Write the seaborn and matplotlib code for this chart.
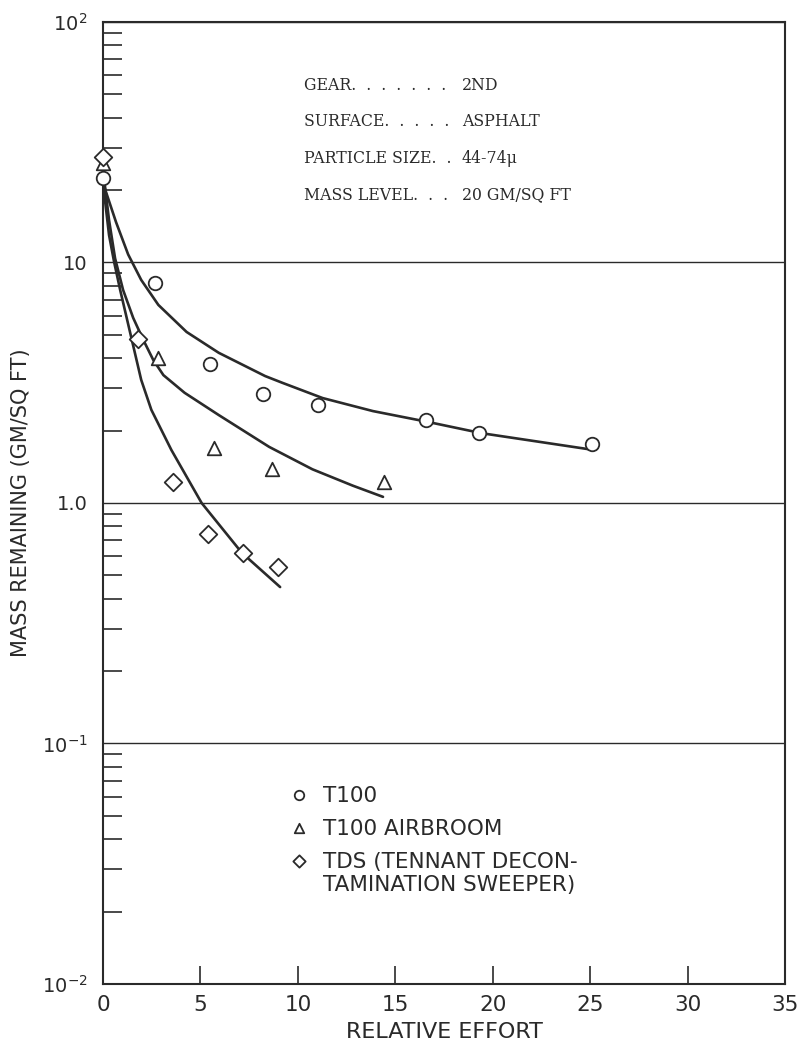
import numpy as np
import pandas as pd
import matplotlib
matplotlib.use("Agg")
import matplotlib.pyplot as plt
import seaborn as sns
from matplotlib.ticker import FixedLocator, FixedFormatter, LogLocator, NullFormatter

# ---- measured points ----
t100_effort = [0.0, 2.67, 5.48, 8.2, 11.04, 16.6, 19.3, 25.1]
t100_mass = [22.4, 8.2, 3.8, 2.84, 2.56, 2.21, 1.95, 1.76]

air_effort = [0.0, 2.8, 5.7, 8.65, 14.4]
air_mass = [25.9, 4.0, 1.69, 1.38, 1.22]

tds_effort = [0.0, 1.82, 3.58, 5.37, 7.17, 9.0]
tds_mass = [27.5, 4.81, 1.22, 0.743, 0.62, 0.54]

# ---- faired curves ----
t100_curve_x = [0.0, 0.67, 1.29, 1.96, 2.84, 4.29, 5.94, 8.32, 9.2, 11.27, 13.85, 16.7, 19.43, 22.1, 25.2]
t100_curve_y = [21.4, 14.7, 10.8, 8.46, 6.66, 5.14, 4.21, 3.37, 3.16, 2.73, 2.41, 2.17, 1.95, 1.81, 1.66]

air_curve_x = [0.0, 0.31, 0.62, 1.03, 1.55, 2.07, 2.58, 3.1, 4.19, 5.94, 8.53, 10.75, 12.82, 14.37]
air_curve_y = [24.3, 15.0, 10.4, 7.69, 5.88, 4.76, 3.93, 3.40, 2.87, 2.32, 1.71, 1.38, 1.18, 1.06]

tds_curve_x = [0.0, 0.1, 0.31, 0.57, 0.88, 1.24, 1.6, 1.96, 2.48, 3.51, 5.06, 7.13, 9.09]
tds_curve_y = [26.7, 18.2, 13.0, 10.05, 7.69, 5.77, 4.33, 3.25, 2.44, 1.66, 1.0, 0.62, 0.447]

series_labels = ["T100", "T100 AIRBROOM", "TDS (TENNANT DECON-\nTAMINATION SWEEPER)"]

x_ticks = [0, 5, 10, 15, 20, 25, 30, 35]
y_major = [0.01, 0.1, 1.0, 10.0, 100.0]
y_major_labels = [r"$\mathregular{10^{-2}}$", r"$\mathregular{10^{-1}}$", "1.0", "10", r"$\mathregular{10^{2}}$"]

info_keys = ["GEAR.  .  .  .  .  .  .", "SURFACE.  .  .  .  .", "PARTICLE SIZE.  .", "MASS LEVEL.  .  ."]
info_vals = ["2ND", "ASPHALT", "44-74\u03bc", "20 GM/SQ FT"]

INK = "#2a2a2a"

sns.set_theme(style="white")
plt.rcParams["font.family"] = ["DejaVu Sans"]
plt.rcParams["mathtext.default"] = "regular"

fig = plt.figure(figsize=(7.99, 10.5), dpi=100)
ax = fig.add_axes([103 / 799, 0.0629, (785 - 103) / 799, 0.9162])
ax.set_yscale("log")

# curves
for cx, cy in [(t100_curve_x, t100_curve_y), (air_curve_x, air_curve_y), (tds_curve_x, tds_curve_y)]:
    sns.lineplot(x=cx, y=cy, sort=False, estimator=None, color=INK, linewidth=1.9,
                 legend=False, ax=ax, zorder=2)

# open symbols
marker_specs = [
    (t100_effort, t100_mass, "o", 95),
    (air_effort, air_mass, "^", 95),
    (tds_effort, tds_mass, "D", 80),
]
for (ex, my, mk, sz), lab in zip(marker_specs, series_labels):
    sns.scatterplot(x=ex, y=my, marker=mk, s=sz, color="white", edgecolor=INK,
                    linewidth=1.3, label=lab, ax=ax, zorder=3, clip_on=False)

ax.set_xlim(0, 35)
ax.set_ylim(0.01, 100)

ax.xaxis.set_major_locator(FixedLocator(x_ticks))
ax.yaxis.set_major_locator(FixedLocator(y_major))
ax.yaxis.set_major_formatter(FixedFormatter(y_major_labels))
ax.yaxis.set_minor_locator(LogLocator(base=10, subs=np.arange(2, 10)))
ax.yaxis.set_minor_formatter(NullFormatter())

ax.tick_params(axis="x", which="major", direction="in", length=13, width=1.2,
               color=INK, labelsize=15.5, labelcolor=INK, pad=8, bottom=True, top=False)
ax.tick_params(axis="y", which="major", length=0, labelsize=14, labelcolor=INK, pad=11)
ax.tick_params(axis="y", which="minor", direction="in", length=14, width=1.2,
               color=INK, left=True, right=False)

ax.yaxis.grid(True, which="major", color=INK, linewidth=1.0)
ax.xaxis.grid(False)
for sp in ax.spines.values():
    sp.set_color(INK)
    sp.set_linewidth(1.5)

ax.set_xlabel("RELATIVE EFFORT", fontsize=16, color=INK, labelpad=5)
ax.set_ylabel("MASS REMAINING (GM/SQ FT)", fontsize=15, color=INK, labelpad=8)

leg = ax.legend(loc="upper left", bbox_to_anchor=(0.256, 0.217), frameon=False,
                fontsize=15.5, markerscale=0.7, handletextpad=0.6, labelspacing=0.6,
                handlelength=1.0, borderpad=0)
for t in leg.get_texts():
    t.set_color(INK)
# put each symbol beside the first line of its label
try:
    for col in leg._legend_handle_box.get_children():
        for item in col.get_children():
            item.align = "top"
except AttributeError:
    pass

# test conditions block
for i, (k, v) in enumerate(zip(info_keys, info_vals)):
    ypix = 85 + i * 36.7
    fig.text(304 / 799, 1 - ypix / 1050, k, family="DejaVu Serif", fontsize=11.3,
             color=INK, va="center", ha="left")
    fig.text(462 / 799, 1 - ypix / 1050, v, family="DejaVu Serif", fontsize=11.3,
             color=INK, va="center", ha="left")

fig.savefig("out.png", dpi=100, facecolor="white")
